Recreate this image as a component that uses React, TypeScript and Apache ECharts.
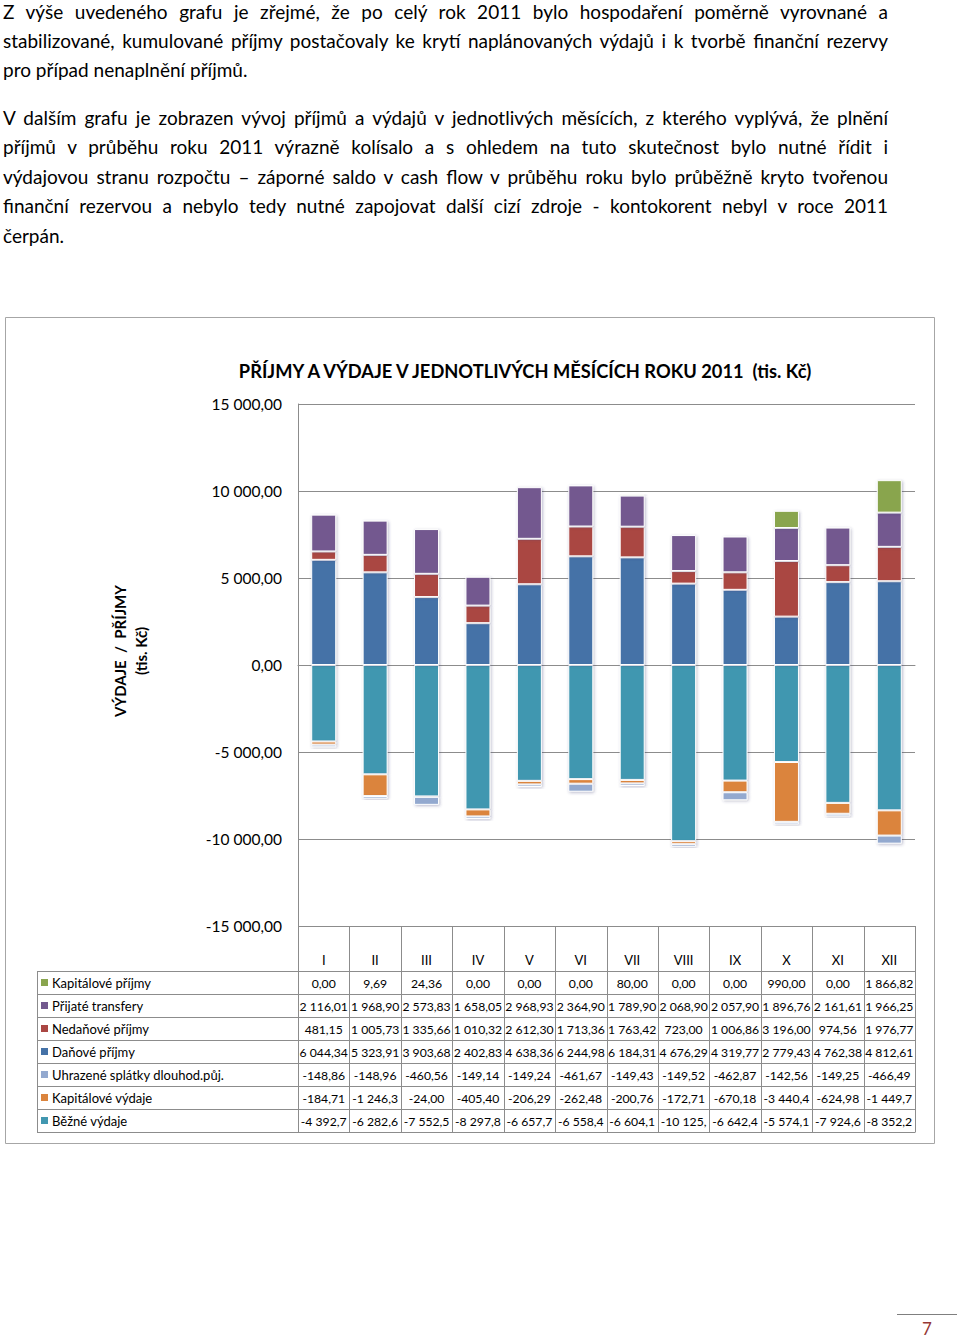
import React, { useEffect, useRef } from 'react';
import * as echarts from 'echarts';

const FONT = 'Lato, "Noto Sans", sans-serif';

// ---------- data ----------
const months = ['I', 'II', 'III', 'IV', 'V', 'VI', 'VII', 'VIII', 'IX', 'X', 'XI', 'XII'];
const kapPrijmy = [0, 9.69, 24.36, 0, 0, 0, 80, 0, 0, 990, 0, 1866.82];
const prijateTransfery = [2116.01, 1968.9, 2573.83, 1658.05, 2968.93, 2364.9, 1789.9, 2068.9, 2057.9, 1896.76, 2161.61, 1966.25];
const nedanovePrijmy = [481.15, 1005.73, 1335.66, 1010.32, 2612.3, 1713.36, 1763.42, 723.0, 1006.86, 3196.0, 974.56, 1976.77];
const danovePrijmy = [6044.34, 5323.91, 3903.68, 2402.83, 4638.36, 6244.98, 6184.31, 4676.29, 4319.77, 2779.43, 4762.38, 4812.61];
const splatky = [-148.86, -148.96, -460.56, -149.14, -149.24, -461.67, -149.43, -149.52, -462.87, -142.56, -149.25, -466.49];
const kapVydaje = [-184.71, -1246.3, -24.0, -405.4, -206.29, -262.48, -200.76, -172.71, -670.18, -3440.4, -624.98, -1449.7];
const bezneVydaje = [-4392.7, -6282.6, -7552.5, -8297.8, -6657.7, -6558.4, -6604.1, -10125, -6642.4, -5574.1, -7924.6, -8352.2];

const yTicks = { min: -15000, max: 15000, interval: 5000 };

const chartTitle = 'PŘÍJMY A VÝDAJE V JEDNOTLIVÝCH MĚSÍCÍCH ROKU 2011  (tis. Kč)';
const yName1 = 'VÝDAJE  /  PŘÍJMY';
const yName2 = '(tis. Kč)';

const paragraphLines = [
  { text: 'Z výše uvedeného grafu je zřejmé, že po celý rok 2011 bylo hospodaření poměrně vyrovnané   a', y: 12, justify: true },
  { text: 'stabilizované, kumulované příjmy postačovaly ke krytí naplánovaných výdajů i k tvorbě finanční rezervy', y: 41, justify: true },
  { text: 'pro případ nenaplnění příjmů.', y: 70, justify: false },
  { text: 'V dalším grafu je zobrazen vývoj příjmů a výdajů v jednotlivých měsících, z kterého vyplývá, že plnění', y: 118, justify: true },
  { text: 'příjmů v průběhu roku 2011 výrazně kolísalo a s ohledem na tuto skutečnost bylo nutné řídit i', y: 147, justify: true },
  { text: 'výdajovou stranu rozpočtu – záporné saldo v cash flow v průběhu roku bylo průběžně kryto tvořenou', y: 177, justify: true },
  { text: 'finanční rezervou a  nebylo tedy nutné zapojovat další cizí zdroje - kontokorent nebyl v roce 2011', y: 206, justify: true },
  { text: 'čerpán.', y: 236, justify: false },
];

const seriesDefs = [
  { name: 'Běžné výdaje', data: bezneVydaje, color: '#4197B0' },
  { name: 'Kapitálové výdaje', data: kapVydaje, color: '#DB843D' },
  { name: 'Uhrazené splátky dlouhod.půj.', data: splatky, color: '#93A9CF' },
  { name: 'Daňové příjmy', data: danovePrijmy, color: '#4572A7' },
  { name: 'Nedaňové příjmy', data: nedanovePrijmy, color: '#AA4643' },
  { name: 'Přijaté transfery', data: prijateTransfery, color: '#73598F' },
  { name: 'Kapitálové příjmy', data: kapPrijmy, color: '#89A54E' },
];

// ---------- layout ----------
const GRID = { left: 298, top: 404, width: 617, height: 522 };
const TABLE = { left: 37, headerTop: 926, rowTop: 971.5, rowH: 23 };
const GRAY = '#8c8c8c';

function czFmt(v: number): string {
  const sign = v < 0 ? '-' : '';
  const [i, d] = Math.abs(v).toFixed(2).split('.');
  return sign + i.replace(/\B(?=(\d{3})+(?!\d))/g, ' ') + ',' + d;
}
// table cells are too narrow, Excel cuts the text to 8 characters
const cellFmt = (v: number) => czFmt(v).slice(0, 8);

function buildOption() {
  const colW = GRID.width / months.length;
  const right = GRID.left + GRID.width;
  const tableRows = [...seriesDefs].reverse();
  const tableBottom = TABLE.rowTop + TABLE.rowH * tableRows.length;
  const g: any[] = [];

  // outer frame of chart
  g.push({ type: 'rect', shape: { x: 5.5, y: 317.5, width: 929, height: 826 }, style: { fill: 'none', stroke: '#a6a6a6', lineWidth: 1 }, silent: true });

  // title
  g.push({ type: 'text', x: 525, y: 371, style: { text: chartTitle, font: `bold 18.3px ${FONT}`, fill: '#000', align: 'center', verticalAlign: 'middle' } });

  // y axis name (rotated)
  g.push({ type: 'text', x: 120, y: 651, rotation: Math.PI / 2, style: { text: yName1, font: `bold 15px ${FONT}`, fill: '#000', align: 'center', verticalAlign: 'middle' } });
  g.push({ type: 'text', x: 141, y: 651, rotation: Math.PI / 2, style: { text: yName2, font: `bold 15px ${FONT}`, fill: '#000', align: 'center', verticalAlign: 'middle' } });

  // table vertical lines
  for (let i = 0; i <= months.length; i++) {
    const x = Math.round(GRID.left + i * colW) + 0.5;
    g.push({ type: 'line', shape: { x1: x, y1: TABLE.headerTop, x2: x, y2: tableBottom }, style: { stroke: GRAY, lineWidth: 1 }, silent: true });
  }
  g.push({ type: 'line', shape: { x1: TABLE.left + 0.5, y1: TABLE.rowTop, x2: TABLE.left + 0.5, y2: tableBottom }, style: { stroke: GRAY, lineWidth: 1 }, silent: true });
  // table horizontal lines
  for (let r = 0; r <= tableRows.length; r++) {
    const y = TABLE.rowTop + r * TABLE.rowH;
    g.push({ type: 'line', shape: { x1: TABLE.left, y1: y, x2: right, y2: y }, style: { stroke: GRAY, lineWidth: 1 }, silent: true });
  }
  // table rows
  tableRows.forEach((s, r) => {
    const cy = TABLE.rowTop + r * TABLE.rowH + TABLE.rowH / 2;
    g.push({ type: 'rect', shape: { x: 41, y: cy - 4, width: 7, height: 7 }, style: { fill: s.color } });
    g.push({ type: 'text', x: 52, y: cy, style: { text: s.name, font: `13px ${FONT}`, fill: '#000', align: 'left', verticalAlign: 'middle' } });
    s.data.forEach((v, i) => {
      g.push({ type: 'text', x: GRID.left + (i + 0.5) * colW, y: cy, style: { text: cellFmt(v), font: `12.2px ${FONT}`, fill: '#000', align: 'center', verticalAlign: 'middle' } });
    });
  });

  // page footer
  g.push({ type: 'line', shape: { x1: 897, y1: 1314.5, x2: 957, y2: 1314.5 }, style: { stroke: '#7f7f7f', lineWidth: 1 }, silent: true });
  g.push({ type: 'text', x: 927, y: 1328, style: { text: '7', font: `17px ${FONT}`, fill: '#953735', align: 'center', verticalAlign: 'middle' } });

  return {
    animation: false,
    backgroundColor: 'transparent',
    grid: { left: GRID.left, top: GRID.top, width: GRID.width, height: GRID.height, containLabel: false },
    xAxis: {
      type: 'category',
      data: months,
      position: 'bottom',
      axisLine: { show: true, lineStyle: { color: GRAY, width: 1 } },
      axisTick: { show: false },
      axisLabel: { color: '#000', fontFamily: FONT, fontSize: 13, margin: 27 },
      splitLine: { show: false },
    },
    yAxis: {
      type: 'value',
      min: yTicks.min,
      max: yTicks.max,
      interval: yTicks.interval,
      axisLine: { show: true, lineStyle: { color: GRAY, width: 1 } },
      axisTick: { show: false },
      axisLabel: { color: '#000', fontFamily: FONT, fontSize: 15.5, margin: 16, formatter: (v: number) => czFmt(v) },
      splitLine: { show: true, lineStyle: { color: GRAY, width: 1 } },
    },
    series: seriesDefs.map((s) => ({
      type: 'bar',
      name: s.name,
      stack: 'total',
      barWidth: 25,
      data: s.data.map((v) => (v === 0 ? null : v)),
      itemStyle: {
        color: s.color,
        borderColor: '#ffffff',
        borderWidth: 1,
        shadowBlur: 3,
        shadowColor: 'rgba(60,60,110,0.35)',
        shadowOffsetX: 1,
        shadowOffsetY: 1,
      },
    })),
    graphic: g,
  };
}

export default function App() {
  const ref = useRef<HTMLDivElement>(null);
  useEffect(() => {
    if (!ref.current) return;
    const chart = echarts.init(ref.current, undefined, { renderer: 'svg' });
    chart.setOption(buildOption() as any);
    return () => chart.dispose();
  }, []);

  return (
    <div style={{ position: 'absolute', left: 0, top: 0, width: 960, height: 1339, background: '#fff', overflow: 'hidden' }}>
      <div ref={ref} style={{ position: 'absolute', left: 0, top: 0, width: 960, height: 1339 }} />
      {paragraphLines.map((l, i) => (
        <div
          key={i}
          style={{
            position: 'absolute',
            left: 3,
            top: l.y - 13,
            width: 885,
            height: 26,
            lineHeight: '26px',
            fontFamily: FONT,
            fontSize: 19,
            color: '#000',
            textAlign: l.justify ? 'justify' : 'left',
            textAlignLast: l.justify ? 'justify' : 'left',
            whiteSpace: 'nowrap',
          } as any}
        >
          {l.text}
        </div>
      ))}
    </div>
  );
}
